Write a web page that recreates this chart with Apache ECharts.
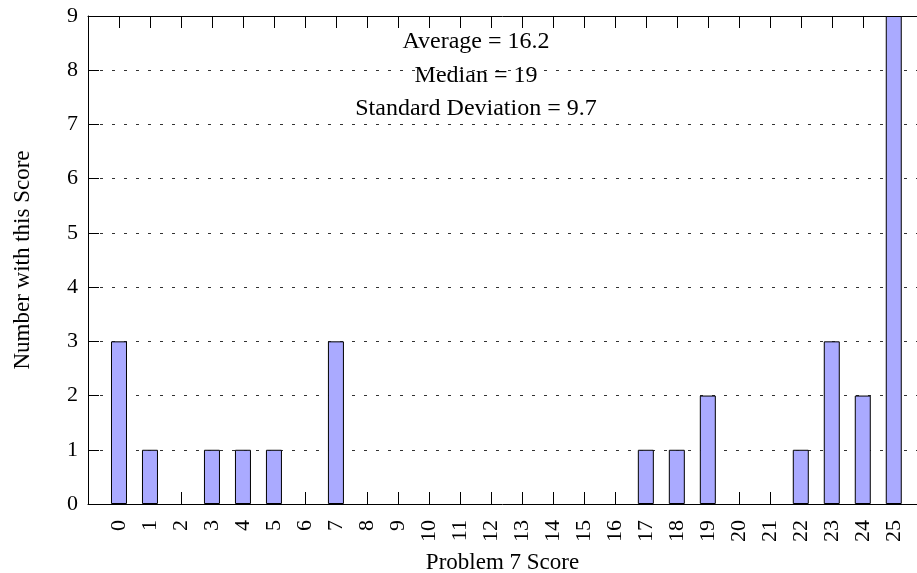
<!DOCTYPE html>
<html>
<head>
<meta charset="utf-8">
<script src="https://cdn.jsdelivr.net/npm/echarts@6/dist/echarts.min.js"></script>
<style>html,body{margin:0;padding:0;background:#fff;}#c{width:917px;height:573px;}</style>
</head>
<body>
<div id="c"></div>
<script>
const scores = [0,1,2,3,4,5,6,7,8,9,10,11,12,13,14,15,16,17,18,19,20,21,22,23,24,25];
const counts = [3,1,0,1,1,1,0,3,0,0,0,0,0,0,0,0,0,1,1,2,0,0,1,3,2,9];
const yTicks = [0,1,2,3,4,5,6,7,8,9];
const statLines = ['Average = 16.2', 'Median = 19', 'Standard Deviation = 9.7'];
const xTitle = 'Problem 7 Score';
const yTitle = 'Number with this Score';

const FONT = 'Liberation Serif';
const chart = echarts.init(document.getElementById('c'), null, {renderer: 'canvas'});
const data = scores.map((s, i) => [s, counts[i] === 0 ? '-' : counts[i]]);
const tickData = scores.map(s => [s, 0]);

const xMin = -1, xMax = 25.75;
const statY = [42, 76, 109];
const TICK = 12;

chart.setOption({
  animation: false,
  backgroundColor: '#fff',
  grid: {left: 88, top: 16, right: 0, bottom: 69, containLabel: false, outerBoundsMode: 'none'},
  xAxis: [{
    type: 'value', min: xMin, max: xMax, interval: 1, position: 'bottom',
    name: xTitle, nameLocation: 'middle', nameGap: 47,
    nameTextStyle: {fontFamily: FONT, fontSize: 23, color: '#000'},
    axisLine: {show: true, onZero: false, lineStyle: {color: '#000', width: 1}},
    axisTick: {show: false},
    axisLabel: {show: true, rotate: 90, margin: 16, customValues: scores,
      fontFamily: FONT, fontSize: 22, color: '#000'},
    splitLine: {show: false}
  }, {
    type: 'value', min: xMin, max: xMax, interval: 1, position: 'top',
    axisLine: {show: true, onZero: false, lineStyle: {color: '#000', width: 1}},
    axisTick: {show: true, inside: true, length: TICK, customValues: scores, lineStyle: {color: '#000', width: 1}},
    axisLabel: {show: false},
    splitLine: {show: false}
  }],
  yAxis: {
    type: 'value', min: 0, max: 9, interval: 1,
    name: yTitle, nameLocation: 'middle', nameGap: 54, nameRotate: 90,
    nameTextStyle: {fontFamily: FONT, fontSize: 23, color: '#000'},
    axisLine: {show: true, onZero: false, lineStyle: {color: '#000', width: 1}},
    axisTick: {show: true, inside: true, length: 11, lineStyle: {color: '#000'}},
    axisLabel: {margin: 10, fontFamily: FONT, fontSize: 22, color: '#000',
      formatter: v => yTicks.includes(v) ? String(v) : ''},
    splitLine: {show: true, lineStyle: {color: '#333', width: 1, type: [3, 9]}}
  },
  series: [{
    type: 'bar', xAxisIndex: 0, yAxisIndex: 0, z: 2, data: data, barWidth: 16,
    itemStyle: {color: '#aaaaff', borderColor: '#000', borderWidth: 1}
  }, {
    type: 'custom', xAxisIndex: 0, yAxisIndex: 0, z: 1, silent: true, clip: false,
    data: tickData,
    renderItem: function (params, api) {
      const p = api.coord([api.value(0), api.value(1)]);
      const x = Math.round(p[0]) + 0.5;
      return {type: 'rect', shape: {x: x - 0.5, y: p[1] - TICK, width: 1, height: TICK},
        style: {fill: '#000'}};
    }
  }],
  graphic: statLines.map((t, i) => ({
    type: 'text', x: 476, y: statY[i], silent: true,
    style: {text: t, fontFamily: FONT, fontSize: 24, fill: '#000',
      textAlign: 'center', textVerticalAlign: 'middle'}
  }))
});
</script>
</body>
</html>
